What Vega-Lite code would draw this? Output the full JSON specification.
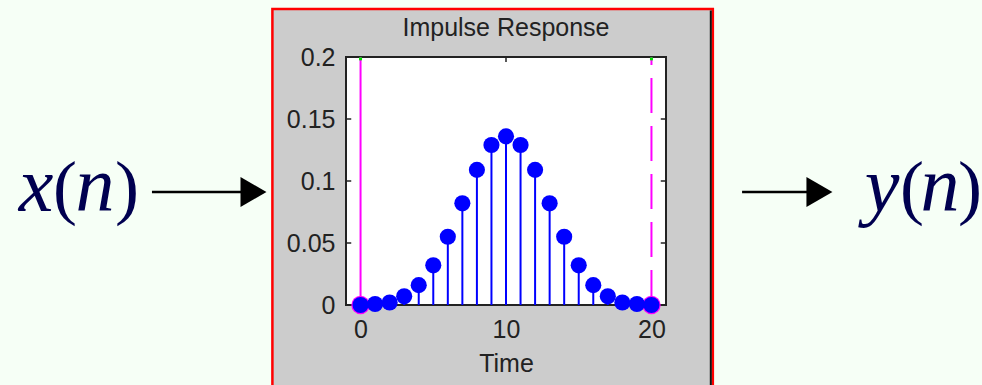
{
  "$schema": "https://vega.github.io/schema/vega-lite/v6.json",
  "autosize": {"type": "none"},
  "width": 320,
  "height": 248,
  "padding": {"left": 346, "top": 57, "right": 316, "bottom": 80},
  "background": "#f6fff6",
  "config": {
    "view": {"stroke": null},
    "axis": {
      "labelFont": "Liberation Sans", "labelFontSize": 25, "labelColor": "#222222",
      "titleFont": "Liberation Sans", "titleFontSize": 25, "titleFontWeight": "normal", "titleColor": "#222222",
      "domain": false, "grid": false, "ticks": false
    }
  },
  "datasets": {
    "one": [{}],
    "ytick": [{"v": 0.05}, {"v": 0.1}, {"v": 0.15}],
    "xtick": [{"v": 10}],
    "imp": [
      {"n": 0, "h": 0}, {"n": 1, "h": 0.0008}, {"n": 2, "h": 0.002}, {"n": 3, "h": 0.007},
      {"n": 4, "h": 0.016}, {"n": 5, "h": 0.032}, {"n": 6, "h": 0.055}, {"n": 7, "h": 0.082},
      {"n": 8, "h": 0.109}, {"n": 9, "h": 0.129}, {"n": 10, "h": 0.136}, {"n": 11, "h": 0.129},
      {"n": 12, "h": 0.109}, {"n": 13, "h": 0.082}, {"n": 14, "h": 0.055}, {"n": 15, "h": 0.032},
      {"n": 16, "h": 0.016}, {"n": 17, "h": 0.007}, {"n": 18, "h": 0.002}, {"n": 19, "h": 0.0008},
      {"n": 20, "h": 0}
    ]
  },
  "data": {"name": "one"},
  "layer": [
    {
      "mark": {"type": "rect", "fill": "#cccccc", "stroke": "#ff0000", "strokeWidth": 2.5, "clip": false},
      "encoding": {
        "x": {"datum": -6.06, "type": "quantitative", "scale": {"domain": [-1, 21], "nice": false, "zero": false},
              "axis": {"values": [0, 10, 20], "title": "Time", "titlePadding": 9, "labelPadding": 12, "zindex": 2}},
        "x2": {"datum": 24.22},
        "y": {"datum": 0.2387, "type": "quantitative", "scale": {"domain": [0, 0.2], "nice": false, "zero": false},
              "axis": {"values": [0, 0.05, 0.1, 0.15, 0.2], "format": "~g", "title": null, "labelPadding": 11, "zindex": 2}},
        "y2": {"datum": -0.075}
      }
    },
    {
      "mark": {"type": "rule", "color": "#111111", "strokeWidth": 2, "clip": false},
      "encoding": {
        "x": {"datum": 24.08, "type": "quantitative"},
        "y": {"datum": 0.2375, "type": "quantitative"},
        "y2": {"datum": -0.075}
      }
    },
    {
      "mark": {"type": "rect", "fill": "#ffffff", "stroke": "#222222", "strokeWidth": 2},
      "encoding": {
        "x": {"datum": -1, "type": "quantitative"},
        "x2": {"datum": 21},
        "y": {"datum": 0, "type": "quantitative"},
        "y2": {"datum": 0.2}
      }
    },
    {
      "data": {"name": "ytick"},
      "mark": {"type": "rule", "color": "#222222", "strokeWidth": 1.5},
      "encoding": {"x": {"datum": -1, "type": "quantitative"}, "x2": {"datum": -0.64}, "y": {"field": "v", "type": "quantitative"}}
    },
    {
      "data": {"name": "ytick"},
      "mark": {"type": "rule", "color": "#222222", "strokeWidth": 1.5},
      "encoding": {"x": {"datum": 20.64, "type": "quantitative"}, "x2": {"datum": 21}, "y": {"field": "v", "type": "quantitative"}}
    },
    {
      "data": {"name": "xtick"},
      "mark": {"type": "rule", "color": "#222222", "strokeWidth": 1.5},
      "encoding": {"x": {"field": "v", "type": "quantitative"}, "y": {"datum": 0, "type": "quantitative"}, "y2": {"datum": 0.004}}
    },
    {
      "data": {"name": "xtick"},
      "mark": {"type": "rule", "color": "#222222", "strokeWidth": 1.5},
      "encoding": {"x": {"field": "v", "type": "quantitative"}, "y": {"datum": 0.196, "type": "quantitative"}, "y2": {"datum": 0.2}}
    },
    {
      "mark": {"type": "text", "text": "Impulse Response", "font": "Liberation Sans", "fontSize": 25, "color": "#222222", "align": "center", "baseline": "alphabetic", "clip": false},
      "encoding": {"x": {"datum": 10, "type": "quantitative"}, "y": {"datum": 0.2169, "type": "quantitative"}}
    },
    {
      "mark": {"type": "rule", "color": "#000000", "strokeWidth": 2.5, "clip": false},
      "encoding": {
        "x": {"datum": -14.34, "type": "quantitative"},
        "x2": {"datum": -7.9},
        "y": {"datum": 0.0911, "type": "quantitative"}
      }
    },
    {
      "mark": {"type": "rule", "color": "#000000", "strokeWidth": 2.5, "clip": false},
      "encoding": {
        "x": {"datum": 26.23, "type": "quantitative"},
        "x2": {"datum": 31.0},
        "y": {"datum": 0.0911, "type": "quantitative"}
      }
    },
    {
      "mark": {"type": "point", "shape": "triangle-right", "filled": true, "color": "#000000", "opacity": 1, "size": 900, "clip": false},
      "encoding": {
        "x": {"datum": -7.36, "type": "quantitative"},
        "y": {"datum": 0.0911, "type": "quantitative"}
      }
    },
    {
      "mark": {"type": "point", "shape": "triangle-right", "filled": true, "color": "#000000", "opacity": 1, "size": 900, "clip": false},
      "encoding": {
        "x": {"datum": 31.55, "type": "quantitative"},
        "y": {"datum": 0.0911, "type": "quantitative"}
      }
    },
    {
      "mark": {"type": "text", "text": "x", "font": "Liberation Serif", "fontStyle": "italic", "fontSize": 78, "color": "#000050", "align": "center", "baseline": "alphabetic", "clip": false},
      "encoding": {"x": {"datum": -22.3, "type": "quantitative"}, "y": {"datum": 0.0758, "type": "quantitative"}}
    },
    {
      "mark": {"type": "text", "text": "(", "font": "Liberation Serif", "fontSize": 72, "color": "#000050", "align": "center", "baseline": "alphabetic", "clip": false},
      "encoding": {"x": {"datum": -20.32, "type": "quantitative"}, "y": {"datum": 0.0758, "type": "quantitative"}}
    },
    {
      "mark": {"type": "text", "text": "n", "font": "Liberation Serif", "fontStyle": "italic", "fontSize": 78, "color": "#000050", "align": "center", "baseline": "alphabetic", "clip": false},
      "encoding": {"x": {"datum": -18.26, "type": "quantitative"}, "y": {"datum": 0.0758, "type": "quantitative"}}
    },
    {
      "mark": {"type": "text", "text": ")", "font": "Liberation Serif", "fontSize": 72, "color": "#000050", "align": "center", "baseline": "alphabetic", "clip": false},
      "encoding": {"x": {"datum": -16.06, "type": "quantitative"}, "y": {"datum": 0.0758, "type": "quantitative"}}
    },
    {
      "mark": {"type": "text", "text": "y", "font": "Liberation Serif", "fontStyle": "italic", "fontSize": 78, "color": "#000050", "align": "center", "baseline": "alphabetic", "clip": false},
      "encoding": {"x": {"datum": 35.85, "type": "quantitative"}, "y": {"datum": 0.0758, "type": "quantitative"}}
    },
    {
      "mark": {"type": "text", "text": "(", "font": "Liberation Serif", "fontSize": 72, "color": "#000050", "align": "center", "baseline": "alphabetic", "clip": false},
      "encoding": {"x": {"datum": 37.91, "type": "quantitative"}, "y": {"datum": 0.0758, "type": "quantitative"}}
    },
    {
      "mark": {"type": "text", "text": "n", "font": "Liberation Serif", "fontStyle": "italic", "fontSize": 78, "color": "#000050", "align": "center", "baseline": "alphabetic", "clip": false},
      "encoding": {"x": {"datum": 39.84, "type": "quantitative"}, "y": {"datum": 0.0758, "type": "quantitative"}}
    },
    {
      "mark": {"type": "text", "text": ")", "font": "Liberation Serif", "fontSize": 72, "color": "#000050", "align": "center", "baseline": "alphabetic", "clip": false},
      "encoding": {"x": {"datum": 41.9, "type": "quantitative"}, "y": {"datum": 0.0758, "type": "quantitative"}}
    },
    {
      "mark": {"type": "rule", "color": "#ff00ff", "strokeWidth": 2},
      "encoding": {"x": {"datum": 0, "type": "quantitative"}, "y": {"datum": 0, "type": "quantitative"}, "y2": {"datum": 0.2}}
    },
    {
      "mark": {"type": "rule", "color": "#ff00ff", "strokeWidth": 2, "strokeDash": [35, 13], "strokeDashOffset": 27},
      "encoding": {"x": {"datum": 20, "type": "quantitative"}, "y": {"datum": 0.2, "type": "quantitative"}, "y2": {"datum": 0}}
    },
    {
      "mark": {"type": "point", "shape": "square", "filled": true, "color": "#00dd00", "opacity": 1, "size": 9},
      "encoding": {"x": {"datum": 0, "type": "quantitative"}, "y": {"datum": 0.1985, "type": "quantitative"}}
    },
    {
      "mark": {"type": "point", "shape": "square", "filled": true, "color": "#00dd00", "opacity": 1, "size": 9},
      "encoding": {"x": {"datum": 20, "type": "quantitative"}, "y": {"datum": 0.1985, "type": "quantitative"}}
    },
    {
      "mark": {"type": "point", "shape": "circle", "filled": true, "color": "#ff00ff", "opacity": 1, "size": 340, "clip": false},
      "encoding": {"x": {"datum": 0, "type": "quantitative"}, "y": {"datum": 0, "type": "quantitative"}}
    },
    {
      "mark": {"type": "point", "shape": "circle", "filled": true, "color": "#ff00ff", "opacity": 1, "size": 340, "clip": false},
      "encoding": {"x": {"datum": 20, "type": "quantitative"}, "y": {"datum": 0, "type": "quantitative"}}
    },
    {
      "data": {"name": "imp"},
      "mark": {"type": "rule", "color": "#0000ff", "strokeWidth": 2},
      "encoding": {
        "x": {"field": "n", "type": "quantitative"},
        "y": {"field": "h", "type": "quantitative"},
        "y2": {"datum": 0}
      }
    },
    {
      "data": {"name": "imp"},
      "mark": {"type": "point", "shape": "circle", "filled": true, "color": "#0000ff", "opacity": 1, "size": 260, "clip": false},
      "encoding": {
        "x": {"field": "n", "type": "quantitative"},
        "y": {"field": "h", "type": "quantitative"}
      }
    }
  ]
}
